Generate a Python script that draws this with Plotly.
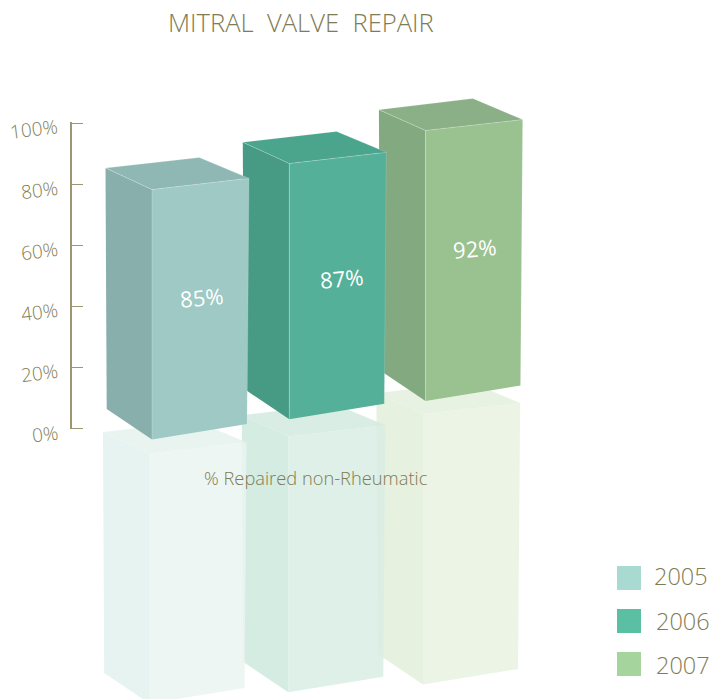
import plotly.graph_objects as go

# ---- data ----
YEARS = ["2005", "2006", "2007"]
VALUES = [85, 87, 92]
VALUE_LABELS = ["85%", "87%", "92%"]
TICK_VALUES = [0, 20, 40, 60, 80, 100]
TICK_LABELS = ["0%", "20%", "40%", "60%", "80%", "100%"]
TITLE = "MITRAL  VALVE  REPAIR"
CAPTION = "% Repaired non-Rheumatic"

# ---- styles ----
W, H = 711, 699
FONT = "Open Sans"
TEXT = "#7f7b54"
AXIS = "#9c9770"
FRONT = ["#9ec9c4", "#54b098", "#9ac290"]
SIDE = ["#88afab", "#479b84", "#83a980"]
TOP = ["#8fb8b4", "#4ba48c", "#8bb087"]
SWATCH = ["#a9dad2", "#5bbfa3", "#a6d49d"]
# resulting pale tints of the copies beneath the bars
PALE_FRONT = ["#edf6f3", "#dff0e8", "#ecf4e6"]
PALE_SIDE = ["#e6f3f0", "#d5ece3", "#e6f1e0"]
PALE_TOP = ["#e9f4f1", "#d9ede4", "#e8f2e3"]
PALE_ALPHA = 0.85

# ---- projection of the oblique box: (base dx, base dy, dx per %, height per %) ----
FRONT_BASE = [(152, 439.5), (289.3, 419.3), (425.5, 401)]
CORNERS = {
    "front": (0, 0, 0, 2.94),
    "right": (95, -15.5, 0.0235, 2.89),
    "left": (-45.3, -30.5, -0.014, 2.835),
}
BACK_FROM_FRONT = (47.3, -32)
REFLECT_DX = [-2.5, -1, -2.5]
REFLECT_DY = [264, 273, 283.5]


def pale(hex_colour, a=PALE_ALPHA):
    """Translucent colour that gives hex_colour when laid over white."""
    rgb = [int(hex_colour[i:i + 2], 16) for i in (1, 3, 5)]
    r, g, b = [max(0, round((c - 255 * (1 - a)) / a)) for c in rgb]
    return f"rgba({r},{g},{b},{a})"


def box(i, value, shift=(0, 0)):
    bx, by = FRONT_BASE[i]
    bx, by = bx + shift[0], by + shift[1]
    pts = {}
    for name, (dx, dy, kx, ky) in CORNERS.items():
        pts[name + "_b"] = (bx + dx, by + dy)
        pts[name + "_t"] = (bx + dx + kx * value, by + dy - ky * value)
    ft = pts["front_t"]
    pts["back_t"] = (ft[0] + BACK_FROM_FRONT[0], ft[1] + BACK_FROM_FRONT[1])
    return pts


def poly(fig, pts, names, fill, line=None, width=0, name=None):
    xs = [pts[n][0] for n in names]
    ys = [pts[n][1] for n in names]
    closed = fill is not None
    fig.add_trace(go.Scatter(
        x=xs + xs[:1] if closed else xs,
        y=ys + ys[:1] if closed else ys,
        mode="lines",
        fill="toself" if closed else None,
        fillcolor=fill,
        line=dict(color=line or "rgba(0,0,0,0)", width=width),
        hoverinfo="skip", showlegend=False, name=name,
    ))


fig = go.Figure()

# faint copies beneath the bars, furthest first
for i in (2, 1, 0):
    p = box(i, VALUES[i], (REFLECT_DX[i], REFLECT_DY[i]))
    poly(fig, p, ["left_t", "front_t", "front_b", "left_b"], pale(PALE_SIDE[i]))
    poly(fig, p, ["front_t", "right_t", "right_b", "front_b"], pale(PALE_FRONT[i]))
    poly(fig, p, ["left_t", "back_t", "right_t", "front_t"], pale(PALE_TOP[i]))

# the bars
for i in (2, 1, 0):
    p = box(i, VALUES[i])
    poly(fig, p, ["left_t", "front_t", "front_b", "left_b"], SIDE[i], name=YEARS[i])
    poly(fig, p, ["front_t", "right_t", "right_b", "front_b"], FRONT[i], name=YEARS[i])
    poly(fig, p, ["left_t", "back_t", "right_t", "front_t"], TOP[i], name=YEARS[i])
    poly(fig, p, ["left_t", "front_t", "right_t"], None, "rgba(255,255,255,0.3)", 0.8)
    poly(fig, p, ["front_t", "front_b"], None, "rgba(255,255,255,0.3)", 0.8)
    poly(fig, p, ["left_t", "back_t", "right_t"], None, "rgba(255,255,255,0.25)", 0.6)
    poly(fig, p, ["right_t", "right_b"], None, "rgba(255,255,255,0.25)", 0.6)

# legend swatches
SWATCH_X = 629
SWATCH_Y = [578, 621, 664]
LEGEND_TEXT_X = [652, 654, 654]
LEGEND_TEXT_Y = [576, 621, 665]
for i, year in enumerate(YEARS):
    fig.add_trace(go.Scatter(
        x=[SWATCH_X], y=[SWATCH_Y[i]], mode="markers",
        marker=dict(symbol="square", size=24, color=SWATCH[i], line=dict(width=0)),
        name=year, showlegend=False, hoverinfo="skip",
    ))

ann = []
# title and caption
ann.append(dict(x=301, y=22, xref="x", yref="y", text=TITLE, showarrow=False,
                font=dict(family=FONT, size=25.6, color=TEXT, weight=300)))
ann.append(dict(x=316, y=477, xref="x", yref="y", text=CAPTION, showarrow=False,
                font=dict(family=FONT, size=18.3, color=TEXT, weight=300)))
# value labels
LABEL_POS = [(201, 297), (341, 278), (474, 248)]
for lab, (lx, ly) in zip(VALUE_LABELS, LABEL_POS):
    ann.append(dict(x=lx, y=ly, xref="x", yref="y", text=lab, showarrow=False, textangle=-5,
                    font=dict(family=FONT, size=22, color="#ffffff")))
# legend labels
for i, year in enumerate(YEARS):
    ann.append(dict(x=LEGEND_TEXT_X[i], y=LEGEND_TEXT_Y[i], xref="x", yref="y", text=year, showarrow=False,
                    xanchor="left", font=dict(family=FONT, size=23.5, color=TEXT, weight=300)))
# tick labels on the percent axis
for v, lab in zip(TICK_VALUES, TICK_LABELS):
    ann.append(dict(x=62, y=v, xref="x", yref="y2", text=lab, showarrow=False, xanchor="right",
                    yshift=-6, textangle=-7,
                    font=dict(family=FONT, size=19, color=TEXT, weight=300)))

PAD = 0.4  # small range padding so the end ticks are kept
fig.update_layout(
    width=W, height=H, autosize=False,
    margin=dict(l=0, r=0, t=0, b=0, pad=0),
    paper_bgcolor="#ffffff", plot_bgcolor="rgba(0,0,0,0)",
    showlegend=False,
    annotations=ann,
    xaxis=dict(range=[0, W], visible=False, fixedrange=True),
    yaxis=dict(range=[H, 0], visible=False, fixedrange=True),
    yaxis2=dict(
        anchor="free", position=71 / W,
        domain=[(H - 428 - 3.05 * PAD) / H, (H - 123 + 3.05 * PAD) / H],
        range=[-PAD, 100 + PAD], tickvals=TICK_VALUES, showticklabels=False,
        ticks="inside", ticklen=11, tickwidth=1.2, tickcolor=AXIS,
        showline=True, linecolor=AXIS, linewidth=1.5,
        showgrid=False, zeroline=False, fixedrange=True,
    ),
)
# a carrier so the percent axis is drawn
fig.add_trace(go.Scatter(x=[None], y=[None], yaxis="y2", showlegend=False, hoverinfo="skip"))

fig.write_html("out.html", config={"displayModeBar": False},
               post_script="document.body.style.margin='0';document.documentElement.style.overflow='hidden';")
